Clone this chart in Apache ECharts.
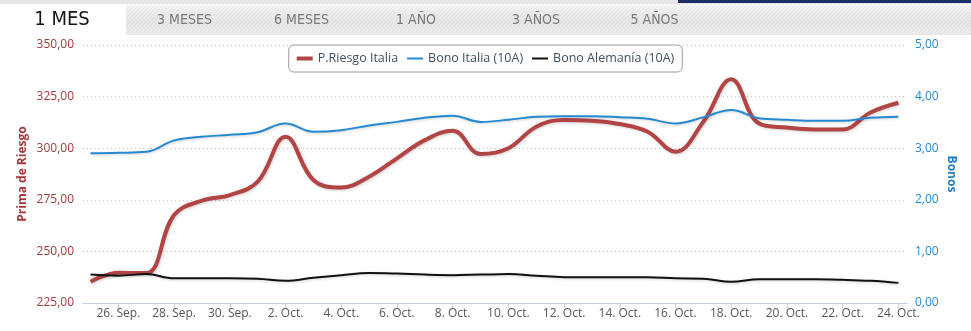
<!DOCTYPE html>
<html>
<head>
<meta charset="utf-8">
<script src="https://cdn.jsdelivr.net/npm/echarts@6/dist/echarts.min.js"></script>
<style>
  html, body { margin: 0; padding: 0; background: #fff; }
  #chart { width: 971px; height: 331px; }
</style>
</head>
<body>
<div id="chart"></div>
<script>
// Días de la serie (25 sep - 24 oct)
const dias = [
  '25. Sep.', '26. Sep.', '27. Sep.', '28. Sep.', '29. Sep.', '30. Sep.',
  '1. Oct.', '2. Oct.', '3. Oct.', '4. Oct.', '5. Oct.', '6. Oct.', '7. Oct.',
  '8. Oct.', '9. Oct.', '10. Oct.', '11. Oct.', '12. Oct.', '13. Oct.', '14. Oct.',
  '15. Oct.', '16. Oct.', '17. Oct.', '18. Oct.', '19. Oct.', '20. Oct.', '21. Oct.',
  '22. Oct.', '23. Oct.', '24. Oct.'
];

// Etiquetas del eje X (cada dos días)
const etiquetasX = [
  '26. Sep.', '28. Sep.', '30. Sep.', '2. Oct.', '4. Oct.', '6. Oct.', '8. Oct.',
  '10. Oct.', '12. Oct.', '14. Oct.', '16. Oct.', '18. Oct.', '20. Oct.', '22. Oct.', '24. Oct.'
];

// Prima de riesgo (puntos básicos)
const primaRiesgo = [
  235.3, 239.7, 239.5, 267.6, 274.6, 277.3, 283.8, 305.6, 284.6, 281.0,
  286.2, 295.1, 303.9, 308.5, 297.2, 300.0, 310.4, 313.7, 313.3, 311.7,
  308.0, 298.3, 312.8, 333.4, 312.0, 310.0, 309.1, 309.1, 317.3, 322.0
];

// Rentabilidad bono Italia 10 años (%)
const bonoItalia = [
  2.90, 2.91, 2.93, 3.15, 3.22, 3.26, 3.31, 3.48, 3.32, 3.35,
  3.44, 3.51, 3.59, 3.63, 3.51, 3.55, 3.61, 3.62, 3.62, 3.60,
  3.57, 3.48, 3.60, 3.74, 3.58, 3.55, 3.53, 3.53, 3.59, 3.61
];

// Rentabilidad bono Alemania 10 años (%)
const bonoAlemania = [
  0.55, 0.53, 0.56, 0.48, 0.48, 0.48, 0.47, 0.43, 0.49, 0.54,
  0.58, 0.57, 0.55, 0.54, 0.55, 0.56, 0.53, 0.50, 0.50, 0.50,
  0.50, 0.48, 0.47, 0.41, 0.46, 0.46, 0.46, 0.45, 0.43, 0.39
];

// Pestañas de periodo
const pestanas = ['1 MES', '3 MESES', '6 MESES', '1 AÑO', '3 AÑOS', '5 AÑOS'];

const serieXY = arr => arr.map((v, i) => [i, v]);
const posTicks = etiquetasX.map(l => dias.indexOf(l));
const fmtNum = v => v.toFixed(2).replace('.', ',');

// Trama rayada de la barra de pestañas
const trama = document.createElement('canvas');
trama.width = 4; trama.height = 4;
const tc = trama.getContext('2d');
tc.fillStyle = '#f6f6f6';
tc.fillRect(0, 0, 4, 4);
tc.strokeStyle = '#e9e9e9';
tc.lineWidth = 0.8;
tc.beginPath();
tc.moveTo(0, 4); tc.lineTo(4, 0);
tc.moveTo(-2, 2); tc.lineTo(2, -2);
tc.moveTo(2, 6); tc.lineTo(6, 2);
tc.stroke();

const xCentros = [62, 184.5, 301.5, 416, 536, 654.5];
const graficos = [
  { type: 'rect', shape: { x: 0, y: 0, width: 971, height: 4 }, style: { fill: '#e6e6e6' }, silent: true },
  { type: 'rect', shape: { x: 0, y: 4, width: 971, height: 31 }, style: { fill: { image: trama, repeat: 'repeat' } }, silent: true },
  { type: 'rect', shape: { x: 0, y: 4, width: 971, height: 31 },
    style: { fill: new echarts.graphic.LinearGradient(0, 0, 0, 1, [
      { offset: 0, color: 'rgba(255,255,255,0.2)' },
      { offset: 1, color: 'rgba(0,0,0,0.03)' }
    ]) }, silent: true },
  { type: 'rect', shape: { x: 0, y: 34, width: 971, height: 1 }, style: { fill: '#e6e6e6' }, silent: true },
  { type: 'rect', shape: { x: 678, y: 0, width: 293, height: 3 }, style: { fill: '#1c2f63' }, silent: true },
  { type: 'rect', shape: { x: 0, y: 4, width: 126, height: 32 }, style: { fill: '#ffffff' }, silent: true }
];
pestanas.forEach((t, i) => {
  graficos.push({
    type: 'text', x: xCentros[i], y: 20,
    style: {
      text: t,
      align: 'center', verticalAlign: 'middle',
      font: i === 0 ? '20px "Liberation Sans Narrow", "DejaVu Sans Condensed", sans-serif'
                    : '14px "Liberation Sans Narrow", "DejaVu Sans Condensed", sans-serif',
      fill: i === 0 ? '#151515' : '#7a7a7a'
    },
    silent: true
  });
});

const fuente = '"Open Sans", "DejaVu Sans", sans-serif';
const sombra = { shadowColor: 'rgba(0,0,0,0.18)', shadowBlur: 3, shadowOffsetX: 1, shadowOffsetY: 1 };

const chart = echarts.init(document.getElementById('chart'), null, { renderer: 'canvas' });
chart.setOption({
  animation: false,
  backgroundColor: '#ffffff',
  textStyle: { fontFamily: fuente },
  graphic: graficos,
  grid: { left: 83, right: 64, top: 45, bottom: 28 },
  legend: {
    left: 'center', top: 45,
    backgroundColor: '#ffffff',
    borderColor: '#9a9a9a', borderWidth: 1, borderRadius: 5,
    padding: [7, 8, 7, 8],
    itemWidth: 16, itemHeight: 4, itemGap: 9,
    textStyle: { fontFamily: fuente, fontSize: 12.5, color: '#3e4f5f' },
    data: [
      { name: 'P.Riesgo Italia', icon: 'path://M0,0H16V4H0Z' },
      { name: 'Bono Italia (10A)', icon: 'path://M0,0M0,1H16V3H0ZM16,4' },
      { name: 'Bono Alemanía (10A)', icon: 'path://M0,0M0,1H16V3H0ZM16,4' }
    ]
  },
  xAxis: {
    type: 'value',
    min: -0.27, max: 29.31,
    axisLine: { show: true, lineStyle: { color: '#c0d0e0', width: 1 } },
    axisTick: { show: true, customValues: posTicks, length: 5, lineStyle: { color: '#c0d0e0' } },
    axisLabel: {
      customValues: posTicks,
      formatter: v => dias[Math.round(v)],
      color: '#555555', fontSize: 12, margin: 5, fontFamily: fuente
    },
    splitLine: { show: false }
  },
  yAxis: [
    {
      type: 'value', min: 225, max: 350, interval: 25,
      name: 'Prima de Riesgo', nameLocation: 'middle', nameGap: 54, nameRotate: 90,
      nameMoveOverlap: false,
      nameTextStyle: { color: '#a33a3a', fontWeight: 'bold', fontSize: 12, fontFamily: fuente },
      axisLine: { show: false }, axisTick: { show: false },
      axisLabel: { formatter: fmtNum, color: '#a33a3a', fontSize: 12, margin: 9, fontFamily: fuente },
      splitLine: { show: true, lineStyle: { color: '#c0c0c0', type: [1, 3], width: 1 } }
    },
    {
      type: 'value', min: 0, max: 5, interval: 1, position: 'right',
      name: 'Bonos', nameLocation: 'middle', nameGap: 38, nameRotate: -90,
      nameMoveOverlap: false,
      nameTextStyle: { color: '#1f7fc4', fontWeight: 'bold', fontSize: 12, fontFamily: fuente },
      axisLine: { show: false }, axisTick: { show: false },
      axisLabel: { formatter: fmtNum, color: '#2588cf', fontSize: 12, margin: 8, fontFamily: fuente },
      splitLine: { show: false }
    }
  ],
  series: [
    {
      name: 'P.Riesgo Italia', type: 'line', yAxisIndex: 0,
      data: serieXY(primaRiesgo), smooth: 0.4, showSymbol: false,
      color: '#b24444',
      lineStyle: Object.assign({ width: 4, color: '#b24444' }, sombra)
    },
    {
      name: 'Bono Italia (10A)', type: 'line', yAxisIndex: 1,
      data: serieXY(bonoItalia), smooth: 0.4, showSymbol: false,
      color: '#2389d0',
      lineStyle: Object.assign({ width: 2, color: '#2389d0' }, sombra)
    },
    {
      name: 'Bono Alemanía (10A)', type: 'line', yAxisIndex: 1,
      data: serieXY(bonoAlemania), smooth: 0.4, showSymbol: false,
      color: '#111111',
      lineStyle: Object.assign({ width: 2, color: '#111111' }, sombra)
    }
  ]
});
</script>
</body>
</html>
